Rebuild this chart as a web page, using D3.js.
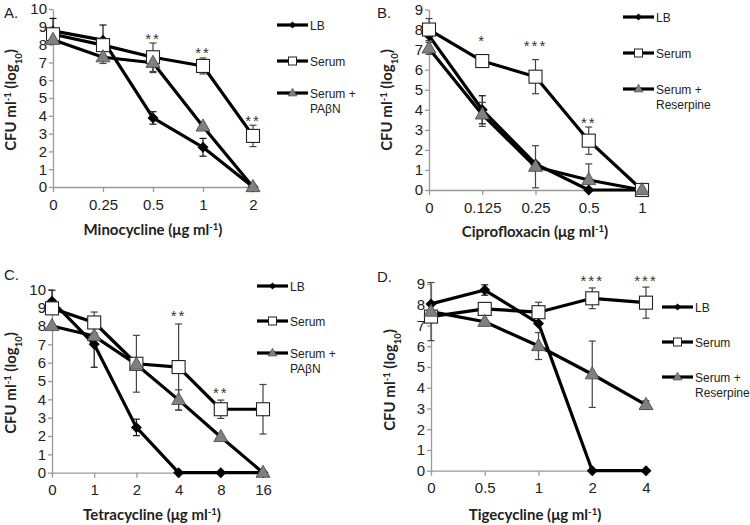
<!DOCTYPE html>
<html><head><meta charset="utf-8">
<script src="https://cdn.jsdelivr.net/npm/d3@7"></script>
<style>body{margin:0;background:#fff}svg{display:block}</style>
</head><body>
<svg id="c" width="750" height="525"></svg>
<script>
// ---------- DATA ----------
const aDoses = ["0","0.25","0.5","1","2"];
const aLB = [8.77,8.25,3.88,2.23,0];
const aLBErr = [0.7,0.85,0.35,0.5,0];
const aSerum = [8.58,7.97,7.29,6.8,2.87];
const aSerumErr = [0,0,0.8,0.45,0.6];
const aTreat = [8.27,7.29,6.98,3.4,0];
const aTreatErr = [0,0.35,0.55,0,0];
const aStars = ["","","**","**","**"];
const aStarLevel = [0,0,8.5,7.7,3.87];

const bDoses = ["0","0.125","0.25","0.5","1"];
const bLB = [7.7,4.0,1.3,0,0];
const bLBErr = [0,0.7,0,0,0];
const bSerum = [8.0,6.43,5.65,2.46,0];
const bSerumErr = [0.55,0,0.85,0.68,0];
const bTreat = [7.06,3.77,1.16,0.5,0];
const bTreatErr = [0.3,0.6,1.05,0.8,0];
const bStars = ["","*","***","**",""];
const bStarLevel = [0,7.59,7.32,3.49,0];

const cDoses = ["0","1","2","4","8","16"];
const cLB = [9.35,7.0,2.47,0,0,0];
const cLBErr = [0.6,1.25,0.45,0,0,0];
const cSerum = [8.96,8.19,5.94,5.76,3.46,3.46];
const cSerumErr = [0,0.57,1.55,2.35,0.5,1.35];
const cTreat = [8.0,7.45,5.9,3.97,1.95,0];
const cTreatErr = [0,0,0,0.55,0,0];
const cStars = ["","","","**","**",""];
const cStarLevel = [0,0,0,8.71,4.5,0];

const dDoses = ["0","0.5","1","2","4"];
const dLB = [8.04,8.71,7.1,0,0];
const dLBErr = [0,0.25,0,0,0];
const dSerum = [7.43,7.8,7.64,8.31,8.1];
const dSerumErr = [0,0,0.48,0.5,0.75];
const dTreat = [7.67,7.18,6.01,4.65,3.17];
const dTreatErr = [1.4,0,0.65,1.6,0.2];
const dStars = ["","","","***","***"];
const dStarLevel = [0,0,0,9.29,9.29];

const legendPAbN = ["LB","Serum","Serum +","PAβN"];
const legendReserpine = ["LB","Serum","Serum +","Reserpine"];
const yTicksA = d3.range(0,11), yTicksB = d3.range(0,10);

// ---------- LAYOUT ----------
const panels = [
  {letter:"A.", lx:4, ly:18, doses:aDoses, lb:aLB, lbE:aLBErr, se:aSerum, seE:aSerumErr, tr:aTreat, trE:aTreatErr, stars:aStars, starL:aStarLevel,
   x0:53, x1:253, yb:187, yt:9, ymax:10, yticks:yTicksA, title:"Minocycline", tx:153, ty:235, ylx:16, yly:100,
   leg:legendPAbN, legX:277, legY:[25,61,93,108]},
  {letter:"B.", lx:377, ly:18, doses:bDoses, lb:bLB, lbE:bLBErr, se:bSerum, seE:bSerumErr, tr:bTreat, trE:bTreatErr, stars:bStars, starL:bStarLevel,
   x0:429, x1:642, yb:190, yt:9.5, ymax:9, yticks:yTicksB, title:"Ciprofloxacin", tx:535, ty:237, ylx:392, yly:100,
   leg:legendReserpine, legX:623, legY:[17,53,89,104]},
  {letter:"C.", lx:4, ly:280, doses:cDoses, lb:cLB, lbE:cLBErr, se:cSerum, seE:cSerumErr, tr:cTreat, trE:cTreatErr, stars:cStars, starL:cStarLevel,
   x0:52, x1:263, yb:472.7, yt:289.3, ymax:10, yticks:yTicksA, title:"Tetracycline", tx:152, ty:520, ylx:16, yly:383,
   leg:legendPAbN, legX:257, legY:[286,321,353,368]},
  {letter:"D.", lx:377, ly:282, doses:dDoses, lb:dLB, lbE:dLBErr, se:dSerum, seE:dSerumErr, tr:dTreat, trE:dTreatErr, stars:dStars, starL:dStarLevel,
   x0:431, x1:646, yb:470.7, yt:284, ymax:9, yticks:yTicksB, title:"Tigecycline", tx:535, ty:520, ylx:395, yly:380,
   leg:legendReserpine, legX:662, legY:[307,342,377,392]}
];

const svg = d3.select("#c");
const axisColor = "#9a9a9a";
const tickFont = "'Liberation Sans', Arial, sans-serif";
const titleFont = "Lato, 'Open Sans', sans-serif";
const triFill = "#808080";

function diamond(cx,cy,r){return `M${cx},${cy-r}L${cx+r},${cy}L${cx},${cy+r}L${cx-r},${cy}Z`;}
function triangle(cx,cy,s){const h=s*0.87;return `M${cx},${cy-h*0.62}L${cx+s/2},${cy+h*0.38}L${cx-s/2},${cy+h*0.38}Z`;}

panels.forEach(p => {
  const g = svg.append("g");
  const x = d3.scalePoint().domain(p.doses).range([p.x0,p.x1]).padding(0);
  const y = d3.scaleLinear().domain([0,p.ymax]).range([p.yb,p.yt]);

  // axes
  const ya = g.append("g").attr("transform",`translate(${p.x0},0)`)
    .call(d3.axisLeft(y).tickValues(p.yticks).tickFormat(d3.format("d")).tickSize(4).tickSizeOuter(0).tickPadding(2));
  const xa = g.append("g").attr("transform",`translate(0,${p.yb})`)
    .call(d3.axisBottom(x).tickSize(5).tickSizeOuter(0).tickPadding(7));
  [ya,xa].forEach(a=>{
    a.select(".domain").attr("stroke",axisColor).attr("stroke-width",1.3);
    a.selectAll(".tick line").attr("stroke",axisColor).attr("stroke-width",1.3);
    a.selectAll(".tick text").attr("font-family",tickFont).attr("font-size",15).attr("fill","#222");
  });

  // lines
  const line = d3.line().x((d,i)=>x(p.doses[i])).y(d=>y(d));
  [p.lb,p.se,p.tr].forEach(s=>{
    g.append("path").attr("d",line(s)).attr("fill","none").attr("stroke","#000").attr("stroke-width",3.2).attr("stroke-linejoin","round");
  });

  // error bars
  const errs = [[p.lb,p.lbE,"#111"],[p.se,p.seE,"#444"],[p.tr,p.trE,"#444"]];
  errs.forEach(([v,e,col])=>{
    v.forEach((val,i)=>{
      if(!e[i]) return;
      const cx = x(p.doses[i]);
      const top = y(val+e[i]), bot = y(Math.max(0,val-e[i]));
      g.append("line").attr("x1",cx).attr("x2",cx).attr("y1",top).attr("y2",bot).attr("stroke",col).attr("stroke-width",1.2);
      [top,bot].forEach(yy=>g.append("line").attr("x1",cx-3.5).attr("x2",cx+3.5).attr("y1",yy).attr("y2",yy).attr("stroke",col).attr("stroke-width",1.2));
    });
  });

  // markers
  p.lb.forEach((v,i)=>g.append("path").attr("d",diamond(x(p.doses[i]),y(v),5.5)).attr("fill","#000"));
  p.se.forEach((v,i)=>g.append("rect").attr("x",x(p.doses[i])-6.5).attr("y",y(v)-6.5).attr("width",13).attr("height",13)
    .attr("fill","#fff").attr("stroke","#222").attr("stroke-width",1.1));
  p.tr.forEach((v,i)=>g.append("path").attr("d",triangle(x(p.doses[i]),y(v),14)).attr("fill",triFill).attr("stroke","#444").attr("stroke-width",0.8));

  // stars
  p.stars.forEach((s,i)=>{
    if(!s) return;
    g.append("text").attr("x",x(p.doses[i])).attr("y",y(p.starL[i])+8).attr("text-anchor","middle")
      .attr("font-family",tickFont).attr("font-size",15).attr("letter-spacing",2).attr("fill","#333").text(s);
  });

  // panel letter
  g.append("text").attr("x",p.lx).attr("y",p.ly).attr("font-family",tickFont).attr("font-size",15).attr("fill","#222").text(p.letter);

  // x title
  const xt = g.append("text").attr("x",p.tx).attr("y",p.ty).attr("text-anchor","middle")
    .attr("font-family",titleFont).attr("font-weight",700).attr("font-size",15).attr("fill","#222");
  xt.append("tspan").text(p.title+" (μg ml");
  xt.append("tspan").attr("font-size",9.5).attr("baseline-shift","super").text("-1");
  xt.append("tspan").text(")");

  // y title
  const yt = g.append("text").attr("transform",`translate(${p.ylx},${p.yly}) rotate(-90)`).attr("text-anchor","middle")
    .attr("font-family",titleFont).attr("font-weight",700).attr("font-size",15).attr("fill","#222");
  yt.append("tspan").text("CFU ml");
  yt.append("tspan").attr("font-size",9.5).attr("baseline-shift","super").text("-1");
  yt.append("tspan").text(" (log");
  yt.append("tspan").attr("font-size",9.5).attr("baseline-shift","sub").text("10");
  yt.append("tspan").text(")");

  // legend
  const lx0 = p.legX, lx1 = p.legX+31, lmx = (lx0+lx1)/2;
  const rows = [p.legY[0],p.legY[1],p.legY[2]];
  rows.forEach((ly,k)=>{
    g.append("line").attr("x1",lx0).attr("x2",lx1).attr("y1",ly).attr("y2",ly).attr("stroke","#000").attr("stroke-width",3.2);
    if(k===0) g.append("path").attr("d",diamond(lmx,ly,3.5)).attr("fill","#000");
    if(k===1) g.append("rect").attr("x",lmx-4).attr("y",ly-4).attr("width",8).attr("height",8).attr("fill","#fff").attr("stroke","#222").attr("stroke-width",1);
    if(k===2) g.append("path").attr("d",triangle(lmx,ly,9)).attr("fill",triFill).attr("stroke","#444").attr("stroke-width",0.6);
  });
  p.leg.forEach((t,k)=>{
    g.append("text").attr("x",lx1+2).attr("y",p.legY[k]+4.5).attr("font-family",tickFont).attr("font-size",12).attr("fill","#222").text(t);
  });
});
</script>
</body></html>
